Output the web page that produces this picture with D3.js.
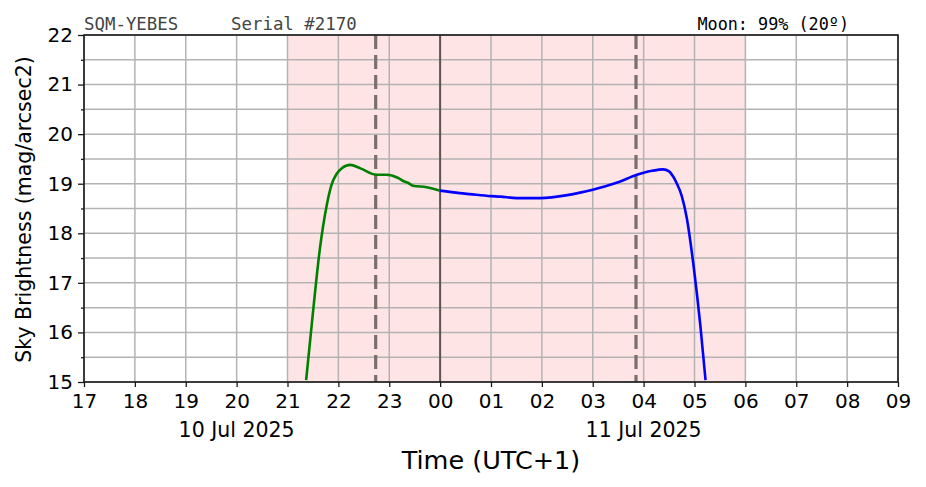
<!DOCTYPE html>
<html>
<head>
<meta charset="utf-8">
<script src="https://cdn.jsdelivr.net/npm/d3@7"></script>
<style>
body { margin: 0; background: white; }
svg { display: block; }
</style>
</head>
<body>
<div id="chart"></div>
<script>
// readings, 10 -> 11 Jul 2025, local time (UTC+1)
const twilightTimes = ['10 21:22', '10 21:30', '10 21:38', '10 21:46', '10 21:52', '10 21:58',
    '10 22:04', '10 22:14', '10 22:26', '10 22:45', '10 22:57', '10 23:10', '10 23:17', '10 23:22', '10 23:28', '10 23:44', '11 00:00']
const twilightValues = [15.04, 16.40, 17.66, 18.54, 18.98, 19.20,
    19.31, 19.38, 19.31, 19.18, 19.18, 19.12, 19.05, 19.02, 18.96, 18.93, 18.86]

const nightTimes = ['11 00:00', '11 00:23', '11 00:35', '11 01:00', '11 01:11', '11 01:30', '11 01:58', '11 02:30', '11 02:45',
    '11 03:00', '11 03:15', '11 03:30', '11 03:52', '11 04:00', '11 04:10', '11 04:23', '11 04:30', '11 04:35', '11 04:39',
    '11 04:45', '11 04:51', '11 04:59', '11 05:07', '11 05:13']
const nightValues = [18.86, 18.81, 18.79, 18.75, 18.74, 18.71, 18.71, 18.77, 18.82,
    18.88, 18.95, 19.03, 19.18, 19.22, 19.26, 19.29, 19.25, 19.14, 19.01,
    18.75, 18.30, 17.33, 16.12, 15.04]

const darkPeriod = ['10 21:00', '11 06:00']
const twilightMarks = ['10 22:44', '11 03:51']
const midnight = '11 00:00'
const dateLabels = [['10 20:00', '10 Jul 2025'], ['11 04:00', '11 Jul 2025']]

const yTicks = [15, 16, 17, 18, 19, 20, 21, 22]

function toDate(s) {
    let day = +s.slice(0, 2)
    let [h, m] = s.slice(3).split(':').map(Number)
    return new Date(2025, 6, day, h, m)
}

const width = 926, height = 487
const margin = { left: 84, right: 28, top: 35, bottom: 105 }

let svg = d3.select('#chart').append('svg')
    .attr('width', width)
    .attr('height', height)

let x = d3.scaleTime()
    .domain([toDate('10 17:00'), toDate('11 09:00')])
    .range([margin.left, width - margin.right])
let y = d3.scaleLinear()
    .domain([15, 22])
    .range([height - margin.bottom, margin.top])

let plotTop = y(22), plotBottom = y(15)

// dark period shading
svg.append('rect')
    .attr('x', x(toDate(darkPeriod[0])))
    .attr('y', plotTop)
    .attr('width', x(toDate(darkPeriod[1])) - x(toDate(darkPeriod[0])))
    .attr('height', plotBottom - plotTop)
    .attr('fill', '#ffe4e6')

// grid
let hourTicks = x.ticks(d3.timeHour.every(1))
let gridGroup = svg.append('g')
    .attr('stroke', '#b3b3b3')
    .attr('stroke-width', 1.5)
gridGroup.selectAll('line.vgrid')
    .data(hourTicks)
    .enter()
    .append('line')
        .attr('x1', d => x(d))
        .attr('x2', d => x(d))
        .attr('y1', plotTop)
        .attr('y2', plotBottom)
gridGroup.selectAll('line.hgrid')
    .data(d3.range(15, 22.01, 0.5))
    .enter()
    .append('line')
        .attr('x1', x.range()[0])
        .attr('x2', x.range()[1])
        .attr('y1', d => y(d))
        .attr('y2', d => y(d))

// twilight markers and midnight
svg.selectAll('line.twilight')
    .data(twilightMarks)
    .enter()
    .append('line')
        .attr('x1', d => x(toDate(d)))
        .attr('x2', d => x(toDate(d)))
        .attr('y1', plotTop)
        .attr('y2', plotBottom)
        .attr('stroke', '#7a6e6e')
        .attr('stroke-width', 3.2)
        .attr('stroke-dasharray', '14,6')
svg.append('line')
    .attr('x1', x(toDate(midnight)))
    .attr('x2', x(toDate(midnight)))
    .attr('y1', plotTop)
    .attr('y2', plotBottom)
    .attr('stroke', '#5e5454')
    .attr('stroke-width', 2)

// series
let line = d3.line()
    .x(d => x(d[0]))
    .y(d => y(d[1]))
    .curve(d3.curveMonotoneX)

let plotClip = svg.append('clipPath').attr('id', 'plot-clip')
plotClip.append('rect')
    .attr('x', x.range()[0])
    .attr('y', plotTop)
    .attr('width', x.range()[1] - x.range()[0])
    .attr('height', plotBottom - plotTop)

svg.append('path')
    .datum(twilightTimes.map((t, i) => [toDate(t), twilightValues[i]]))
    .attr('d', line)
    .attr('fill', 'none')
    .attr('stroke', '#008000')
    .attr('stroke-width', 2.6)
    .attr('clip-path', 'url(#plot-clip)')
svg.append('path')
    .datum(nightTimes.map((t, i) => [toDate(t), nightValues[i]]))
    .attr('d', line)
    .attr('fill', 'none')
    .attr('stroke', '#0000ff')
    .attr('stroke-width', 2.6)
    .attr('clip-path', 'url(#plot-clip)')

// frame
svg.append('rect')
    .attr('x', x.range()[0])
    .attr('y', plotTop)
    .attr('width', x.range()[1] - x.range()[0])
    .attr('height', plotBottom - plotTop)
    .attr('fill', 'none')
    .attr('stroke', '#1a1a1a')
    .attr('stroke-width', 1.6)

// axes
let xAxis = svg.append('g')
    .attr('transform', `translate(0,${plotBottom})`)
    .call(d3.axisBottom(x)
        .ticks(d3.timeHour.every(1))
        .tickFormat(d3.timeFormat('%H'))
        .tickSize(5)
        .tickPadding(7))
let yAxis = svg.append('g')
    .attr('transform', `translate(${x.range()[0]},0)`)
    .call(d3.axisLeft(y)
        .tickValues(yTicks)
        .tickFormat(d3.format('d'))
        .tickSize(6)
        .tickPadding(5))
svg.append('g')
    .attr('transform', `translate(${x.range()[0]},0)`)
    .call(d3.axisLeft(y)
        .tickValues(d3.range(15.5, 22, 1))
        .tickFormat('')
        .tickSize(3))
    .call(g => g.select('.domain').remove())

svg.selectAll('.tick line')
    .attr('stroke', '#1a1a1a')
    .attr('stroke-width', 1.3)
svg.selectAll('.domain').remove()
svg.selectAll('.tick text')
    .attr('font-family', 'DejaVu Sans')
    .attr('font-size', 20)
    .attr('fill', 'black')

// date labels
svg.selectAll('text.date-label')
    .data(dateLabels)
    .enter()
    .append('text')
        .attr('class', 'date-label')
        .attr('x', d => x(toDate(d[0])))
        .attr('y', plotBottom + 55)
        .attr('text-anchor', 'middle')
        .attr('font-family', 'DejaVu Sans')
        .attr('font-size', 20.5)
        .text(d => d[1])

// axis titles
svg.append('text')
    .attr('x', (x.range()[0] + x.range()[1]) / 2)
    .attr('y', 469)
    .attr('text-anchor', 'middle')
    .attr('font-family', 'DejaVu Sans')
    .attr('font-size', 25.5)
    .text('Time (UTC+1)')
svg.append('text')
    .attr('transform', `translate(31,${(plotTop + plotBottom) / 2 + 1}) rotate(-90)`)
    .attr('text-anchor', 'middle')
    .attr('font-family', 'DejaVu Sans')
    .attr('font-size', 20.5)
    .text('Sky Brightness (mag/arcsec2)')

// header texts
svg.append('text')
    .attr('x', x.range()[0])
    .attr('y', 30)
    .attr('font-family', 'DejaVu Sans Mono')
    .attr('font-size', 17.4)
    .attr('fill', '#444')
    .text('SQM-YEBES')
svg.append('text')
    .attr('x', 231)
    .attr('y', 30)
    .attr('font-family', 'DejaVu Sans Mono')
    .attr('font-size', 17.4)
    .attr('fill', '#444')
    .text('Serial #2170')
svg.append('text')
    .attr('x', 849)
    .attr('y', 30)
    .attr('text-anchor', 'end')
    .attr('font-family', 'DejaVu Sans Mono')
    .attr('font-size', 16.8)
    .attr('fill', 'black')
    .text('Moon: 99% (20º)')
</script>
</body>
</html>
